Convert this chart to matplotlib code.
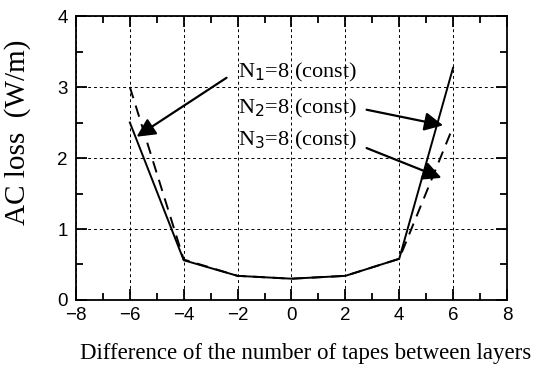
import matplotlib
matplotlib.use("Agg")
import matplotlib.pyplot as plt
from matplotlib.ticker import MultipleLocator

# Data
x_solid = [-6, -4, -2, 0, 2, 4, 6]
y_solid = [2.50, 0.56, 0.34, 0.30, 0.34, 0.58, 3.27]
x_dash = [-6, -4, -2, 0, 2, 4, 6]
y_dash = [3.00, 0.57, 0.34, 0.30, 0.34, 0.58, 2.44]

labels = ["N$_1$=8 (const)", "N$_2$=8 (const)", "N$_3$=8 (const)"]
label_pos = [(-2.0, 3.20), (-2.0, 2.70), (-2.0, 2.25)]
arrow_start = [(-2.41, 3.13), (2.79, 2.68), (2.79, 2.14)]
arrow_tip = [(-5.75, 2.30), (5.63, 2.46), (5.57, 1.72)]

fig = plt.figure(figsize=(5.34, 3.69), dpi=100)
ax = fig.add_axes([0.1423, 0.187, 0.807, 0.7696])

ax.plot(x_solid, y_solid, color="black", lw=1.4)
ax.plot(x_dash, y_dash, color="black", lw=1.4, linestyle=(0, (6, 4)))

ax.set_xlim(-8, 8)
ax.set_ylim(0, 4)
ax.xaxis.set_major_locator(MultipleLocator(2))
ax.xaxis.set_minor_locator(MultipleLocator(1))
ax.yaxis.set_major_locator(MultipleLocator(1))
ax.yaxis.set_minor_locator(MultipleLocator(0.5))
ax.tick_params(which="both", direction="in", top=True, right=True, width=1.3)
ax.tick_params(which="major", length=8)
ax.tick_params(which="minor", length=5)
ax.tick_params(axis="both", labelsize=13.5)
ax.tick_params(axis="x", pad=5)
ax.tick_params(axis="y", pad=6)
for lab in ax.get_xticklabels() + ax.get_yticklabels():
    lab.set_family("Liberation Sans")
for s in ax.spines.values():
    s.set_linewidth(1.3)

ax.grid(True, which="major", color="black", lw=0.7, linestyle=(0, (3, 3)))

for lab, (tx, ty) in zip(labels, label_pos):
    ax.text(tx, ty, lab, family="Liberation Serif", fontsize=16, va="center", ha="left")
for (sx, sy), (ex, ey) in zip(arrow_start, arrow_tip):
    ax.annotate("", xy=(ex, ey), xytext=(sx, sy),
                arrowprops=dict(arrowstyle="-|>", mutation_scale=28, lw=1.6,
                                color="black", shrinkA=0, shrinkB=0))

ax.set_xlabel("Difference of the number of tapes between layers",
              family="Liberation Serif", fontsize=16.5)
ax.xaxis.set_label_coords(0.532, -0.152)
ax.set_ylabel("AC loss  (W/m)", family="Liberation Serif", fontsize=21)
ax.yaxis.set_label_coords(-0.105, 0.59)

fig.savefig("out.png", dpi=100)
